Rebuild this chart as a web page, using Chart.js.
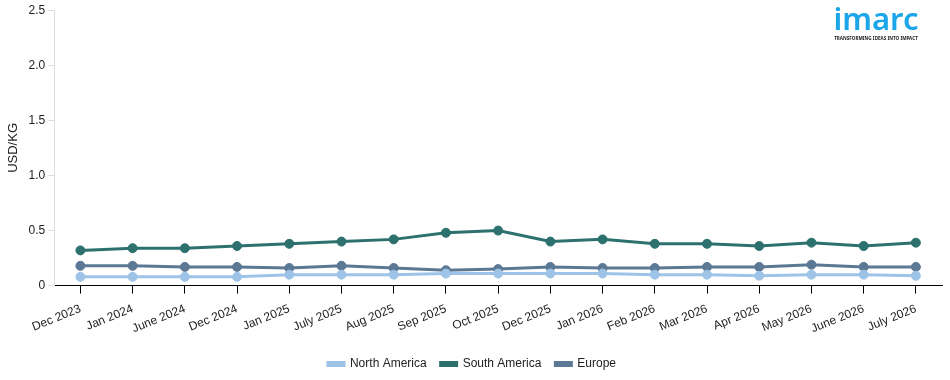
<!DOCTYPE html>
<html>
<head>
<meta charset="utf-8">
<script src="https://cdn.jsdelivr.net/npm/chart.js@4.4.1/dist/chart.umd.min.js"></script>
<style>
  html, body { margin: 0; padding: 0; background: #fff; }
  #wrap { position: relative; width: 950px; height: 380px; }
  #logo { position: absolute; left: 833px; top: 0px; width: 86px; text-align: center; font-family: "Noto Sans", Arial, sans-serif; color: #1ba6ea; }
  #logo .name { font-size: 31px; font-weight: 600; line-height: 36px; letter-spacing: 0px; }
  #logo .tag { font-size: 4.6px; font-weight: bold; color: #222; letter-spacing: 0px; white-space: nowrap; margin-top: -1px; }
</style>
</head>
<body>
<div id="wrap">
  <canvas id="chart"></canvas>
  <div id="logo"><div class="name">imarc</div><div class="tag">TRANSFORMING IDEAS INTO IMPACT</div></div>
</div>
<script>
const ctx = document.getElementById("chart");

// Categories and series (USD/KG)
const months = ["Dec 2023", "Jan 2024", "June 2024", "Dec 2024", "Jan 2025", "July 2025", "Aug 2025", "Sep 2025",
    "Oct 2025", "Dec 2025", "Jan 2026", "Feb 2026", "Mar 2026", "Apr 2026", "May 2026", "June 2026", "July 2026"];
const northAmerica = [0.08, 0.08, 0.08, 0.08, 0.10, 0.10, 0.10, 0.11, 0.11, 0.11, 0.11, 0.10, 0.10, 0.09, 0.10, 0.10, 0.09];
const southAmerica = [0.32, 0.34, 0.34, 0.36, 0.38, 0.40, 0.42, 0.48, 0.50, 0.40, 0.42, 0.38, 0.38, 0.36, 0.39, 0.36, 0.39];
const europe = [0.18, 0.18, 0.17, 0.17, 0.16, 0.18, 0.16, 0.14, 0.15, 0.17, 0.16, 0.16, 0.17, 0.17, 0.19, 0.17, 0.17];

const colors = ["#9dc3e6", "#2d716f", "#5b7894"];

const makeSet = (label, data, color) => ({
    label: label,
    data: data,
    borderColor: color,
    backgroundColor: color,
    borderWidth: 3,
    pointRadius: 4.5,
    pointBorderWidth: 1,
    pointHoverRadius: 4.5,
    tension: 0,
});

Chart.defaults.font.family = '"Liberation Sans", Arial, sans-serif';
Chart.defaults.color = "#222";

let myChart = new Chart(ctx, {
    type: "line",
    data: {
        labels: months,
        datasets: [
            makeSet("North America", northAmerica, colors[0]),
            makeSet("South America", southAmerica, colors[1]),
            makeSet("Europe", europe, colors[2]),
        ],
    },
    options: {
        responsive: true,
        maintainAspectRatio: false,
        animation: false,
        layout: { padding: { top: 4, right: 8, left: 2, bottom: 0 } },
        plugins: {
            tooltip: { enabled: false },
            legend: {
                position: "bottom",
                labels: {
                    boxWidth: 16,
                    boxHeight: 3,
                    padding: 14,
                    font: { size: 12 },
                    color: "#222",
                },
            },
        },
        scales: {
            x: {
                offset: true,
                grid: { display: true, drawOnChartArea: false, offset: false, color: "#000", tickLength: 8 },
                border: { color: "#000" },
                ticks: { maxRotation: 22, minRotation: 22, font: { size: 12 }, color: "#222", padding: 8 },
            },
            y: {
                min: 0,
                max: 2.5,
                grid: { display: true, drawOnChartArea: false, color: "#ddd", tickLength: 6 },
                border: { color: "#ddd" },
                ticks: {
                    stepSize: 0.5,
                    font: { size: 12 },
                    color: "#222",
                    callback: (v) => (v === 0 ? "0" : v.toFixed(1)),
                },
                title: { display: true, text: "USD/KG", font: { size: 13 }, color: "#222" },
            },
        },
    },
});
</script>
</body>
</html>
